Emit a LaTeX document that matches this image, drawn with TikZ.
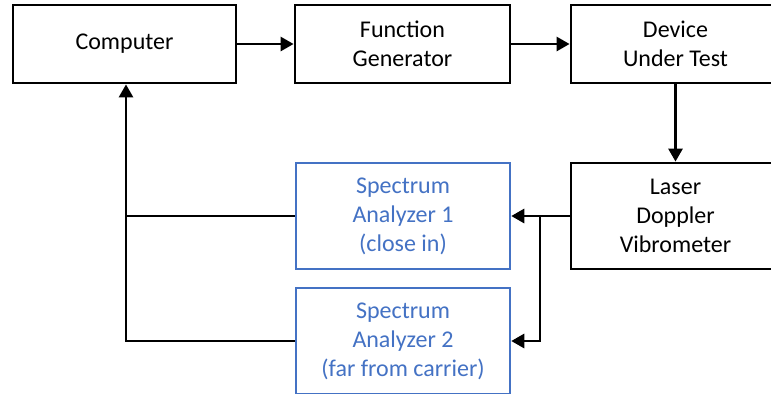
\documentclass[tikz,border=0pt]{standalone}
\usepackage{fontspec}
\setmainfont{Carlito}
\usetikzlibrary{arrows.meta}
\definecolor{offblue}{HTML}{4472C4}
\begin{document}
\begin{tikzpicture}[x=1bp,y=-1bp,
  box/.style={draw=black,line width=2.8bp,fill=white,align=center,inner sep=0pt,
    font=\fontsize{24bp}{29bp}\selectfont},
  bluebox/.style={box,draw=offblue,text=offblue,line width=2.5bp},
  conn/.style={line width=2.8bp,-{Triangle[length=13bp,width=14bp]}},
  plain/.style={line width=2.8bp}]
\useasboundingbox (0,0) rectangle (771,393);
\node[box,minimum width=223bp,minimum height=78bp] (comp) at (124.5,44) {Computer};
\node[box,minimum width=215bp,minimum height=78bp] (fg) at (402.5,44) {Function\\Generator};
\node[box,minimum width=209bp,minimum height=78bp] (dut) at (675.5,44) {Device\\Under Test};
\node[box,minimum width=209bp,minimum height=106bp] (ldv) at (675.5,216) {Laser\\Doppler\\Vibrometer};
\node[bluebox,minimum width=214bp,minimum height=106bp] (sa1) at (403,216) {Spectrum\\Analyzer 1\\(close in)};
\node[bluebox,minimum width=214bp,minimum height=106bp] (sa2) at (403,341) {Spectrum\\Analyzer 2\\(far from carrier)};
\coordinate (br) at (540,216);
\coordinate (lc) at (126,216);
\draw[conn] (comp) -- (fg);
\draw[conn] (fg) -- (dut);
\draw[conn] (dut) -- (ldv);
\draw[conn] (ldv.west) -- (sa1.east);
\draw[conn] (br) |- (sa2.east);
\draw[plain] (sa1.west) -- (lc);
\draw[conn] (sa2.west) -| (comp.south -| lc);
\end{tikzpicture}
\end{document}
